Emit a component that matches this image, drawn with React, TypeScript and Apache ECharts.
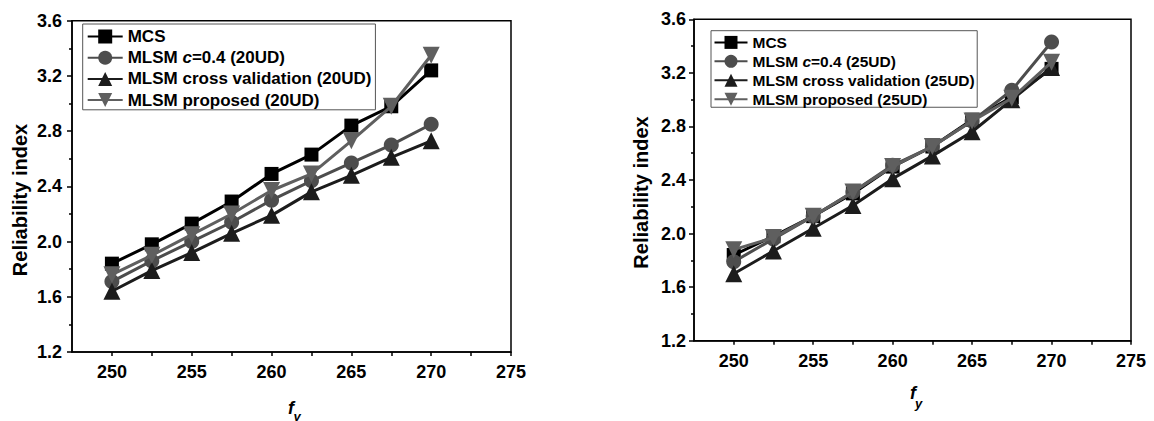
import React, { useEffect, useRef } from "react";
import * as echarts from "echarts";

const xValues = [250, 252.5, 255, 257.5, 260, 262.5, 265, 267.5, 270];
const xTickValues = [250, 252.5, 255, 257.5, 260, 262.5, 265, 267.5, 270, 272.5, 275];
const xLabelValues = [250, 255, 260, 265, 270, 275];

const seriesNames20 = ["MCS", "MLSM c=0.4 (20UD)", "MLSM cross validation (20UD)", "MLSM proposed (20UD)"];
const seriesNames25 = ["MCS", "MLSM c=0.4 (25UD)", "MLSM cross validation (25UD)", "MLSM proposed (25UD)"];

const mcs20 = [1.84, 1.98, 2.13, 2.29, 2.49, 2.63, 2.84, 2.98, 3.24];
const c20 = [1.71, 1.86, 2.0, 2.14, 2.3, 2.44, 2.57, 2.7, 2.85];
const cv20 = [1.64, 1.79, 1.92, 2.06, 2.19, 2.36, 2.48, 2.61, 2.73];
const prop20 = [1.76, 1.9, 2.05, 2.2, 2.37, 2.49, 2.73, 2.98, 3.35];

const mcs25 = [1.84, 1.98, 2.13, 2.3, 2.5, 2.65, 2.85, 3.02, 3.23];
const c25 = [1.79, 1.96, 2.13, 2.31, 2.51, 2.65, 2.84, 3.07, 3.43];
const cv25 = [1.7, 1.87, 2.04, 2.21, 2.41, 2.58, 2.76, 3.0, 3.24];
const prop25 = [1.88, 1.97, 2.13, 2.31, 2.5, 2.65, 2.84, 3.01, 3.28];

const FONT = "'Liberation Sans', Arial, sans-serif";
const DOWN_TRI = "path://M0,0 L10,0 L5,8.66 Z";

const styles = [
  { color: "#000000", symbol: "rect", size: 14 },
  { color: "#4d4d4d", symbol: "circle", size: 15 },
  { color: "#1c1c1c", symbol: "triangle", size: 17 },
  { color: "#5f5f5f", symbol: DOWN_TRI, size: 17 },
];

function pairs(ys: number[]) {
  return xValues.map((x, i) => [x, ys[i]]);
}

function makeSeries(names: string[], data: number[][], idx: number) {
  return names.map((name, i) => ({
    type: "line",
    name,
    xAxisIndex: idx,
    yAxisIndex: idx,
    data: pairs(data[i]),
    symbol: styles[i].symbol,
    symbolSize: styles[i].size,
    showSymbol: true,
    color: styles[i].color,
    itemStyle: { color: styles[i].color },
    lineStyle: { color: styles[i].color, width: 3 },
    z: 2 + i,
  }));
}

function xAxisCfg(gridIndex: number, margin: number) {
  return {
    type: "value",
    gridIndex,
    min: 247.5,
    max: 275,
    splitLine: { show: false },
    axisLine: { show: true, onZero: false, lineStyle: { color: "#000", width: 1.5 } },
    axisTick: { show: true, length: 4, customValues: xTickValues, lineStyle: { color: "#000", width: 1.5 } },
    axisLabel: {
      customValues: xLabelValues,
      color: "#000",
      fontSize: 18,
      fontWeight: "bold",
      fontFamily: FONT,
      margin,
      formatter: (v: number) => String(v),
    },
  };
}

function yAxisCfg(gridIndex: number, margin: number) {
  return {
    type: "value",
    gridIndex,
    min: 1.2,
    max: 3.6,
    interval: 0.4,
    splitLine: { show: false },
    axisLine: { show: true, onZero: false, lineStyle: { color: "#000", width: 1.5 } },
    axisTick: { show: true, length: 5, lineStyle: { color: "#000", width: 1.5 } },
    minorTick: { show: true, splitNumber: 2, length: 3, lineStyle: { color: "#000", width: 1.5 } },
    axisLabel: {
      color: "#000",
      fontSize: 18,
      fontWeight: "bold",
      fontFamily: FONT,
      margin,
      formatter: (v: number) => v.toFixed(1),
    },
  };
}

function legendCfg(names: string[], left: number, top: number, fontSize: number, itemWidth: number, itemHeight: number, itemGap: number, padding: number[]) {
  return {
    show: true,
    orient: "vertical",
    left,
    top,
    data: names,
    itemWidth,
    itemHeight,
    itemGap,
    padding,
    borderColor: "#555",
    borderWidth: 1,
    backgroundColor: "#fff",
    selectedMode: false,
    textStyle: {
      color: "#000",
      fontSize,
      fontWeight: "bold",
      fontFamily: FONT,
      rich: {
        it: { fontStyle: "italic", fontWeight: "bold", fontSize, fontFamily: FONT, color: "#000" },
        n: { fontWeight: "bold", fontSize, fontFamily: FONT, color: "#000" },
      },
    },
    formatter: (name: string) => {
      if (name.indexOf("c=") >= 0) {
        const parts = name.split("c=");
        return "{n|" + parts[0] + "}{it|c}{n|=" + parts[1] + "}";
      }
      return name;
    },
  };
}

export default function App() {
  const ref = useRef<HTMLDivElement>(null);

  useEffect(() => {
    if (!ref.current) return;
    const chart = echarts.init(ref.current, undefined, { renderer: "svg" });
    const titleStyle = { fontSize: 20, fontWeight: "bold", fontFamily: FONT, fill: "#000", align: "center", verticalAlign: "middle", textAlign: "center", textVerticalAlign: "middle" };
    const option = {
      animation: false,
      backgroundColor: "#ffffff",
      grid: [
        { left: 72, top: 20.7, width: 439, height: 331.3, show: true, borderColor: "#000", borderWidth: 1.5, backgroundColor: "transparent", containLabel: false },
        { left: 694, top: 19.3, width: 437, height: 321.4, show: true, borderColor: "#000", borderWidth: 1.5, backgroundColor: "transparent", containLabel: false },
      ],
      xAxis: [xAxisCfg(0, 11), xAxisCfg(1, 11)],
      yAxis: [yAxisCfg(0, 10), yAxisCfg(1, 8)],
      legend: [
        legendCfg(seriesNames20, 82.7, 24, 17, 35, 17.5, 4.2, [4, 4, 1.2, 4]),
        legendCfg(seriesNames25, 711, 30.7, 15.5, 33, 16.25, 2.95, [3.7, 2.5, 0, 2.5]),
      ],
      series: [
        ...makeSeries(seriesNames20, [mcs20, c20, cv20, prop20], 0),
        ...makeSeries(seriesNames25, [mcs25, c25, cv25, prop25], 1),
      ],
      graphic: [
        { type: "text", x: 19.6, y: 200, rotation: Math.PI / 2, style: { ...titleStyle, text: "Reliability index" } },
        { type: "text", x: 641, y: 192.5, rotation: Math.PI / 2, style: { ...titleStyle, text: "Reliability index" } },
        { type: "text", x: 291, y: 408, style: { ...titleStyle, text: "f", fontSize: 18, fontStyle: "italic" } },
        { type: "text", x: 297, y: 416, style: { ...titleStyle, text: "y", fontSize: 13, fontStyle: "italic" } },
        { type: "text", x: 913, y: 393, style: { ...titleStyle, text: "f", fontSize: 18, fontStyle: "italic" } },
        { type: "text", x: 918.5, y: 403, style: { ...titleStyle, text: "y", fontSize: 13, fontStyle: "italic" } },
      ],
    };
    chart.setOption(option as any);
    return () => {
      chart.dispose();
    };
  }, []);

  return (
    <div
      ref={ref}
      style={{ position: "fixed", left: 0, top: 0, width: 1154, height: 421, background: "#fff" }}
    />
  );
}
